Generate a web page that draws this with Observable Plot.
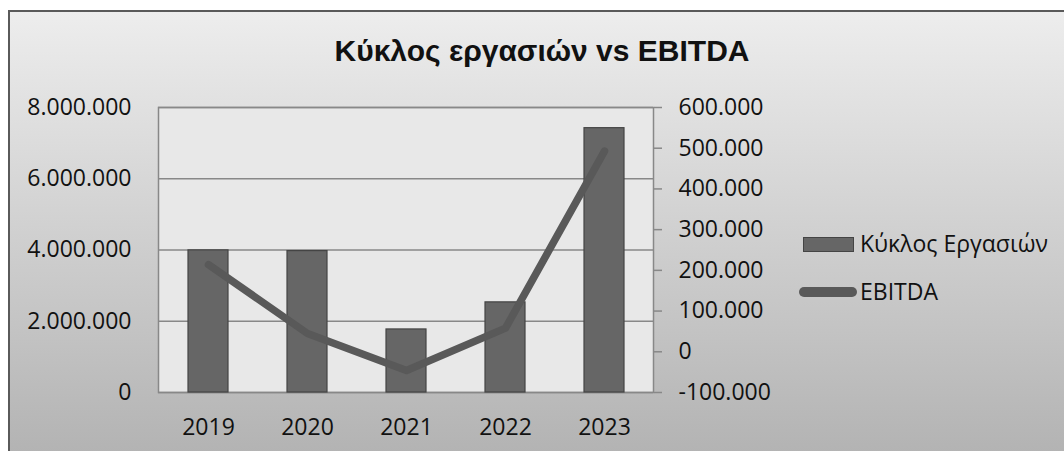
<!DOCTYPE html>
<html>
<head>
<meta charset="utf-8">
<script src="https://cdn.jsdelivr.net/npm/d3@7"></script>
<script src="https://cdn.jsdelivr.net/npm/@observablehq/plot@0.6"></script>
<style>
  html, body { margin: 0; padding: 0; background: #ffffff; }
  #wrap { position: relative; width: 1064px; height: 451px; overflow: hidden; }
  #frame { position: absolute; left: 8px; top: 10px; width: 1100px; height: 500px;
    border-left: 2px solid #5a5a5a; border-top: 2px solid #5a5a5a;
    background: linear-gradient(to bottom, #ededed 0px, #b3b3b3 441px); }
  #chart { position: absolute; left: 0; top: 0; }
  #title { position: absolute; left: 0; width: 1084px; top: 36px; text-align: center;
    font: bold 30px "Liberation Sans", Arial, sans-serif; line-height: 30px; color: #111; }
  .leg { position: absolute; font: 23px "Open Sans", sans-serif; line-height: 23px; color: #111; white-space: nowrap; }
  .sw-bar { position: absolute; background: #666; border: 1px solid #444; box-sizing: border-box; }
  .sw-line { position: absolute; background: #595959; border-radius: 6px; }
</style>
</head>
<body>
<div id="wrap">
  <div id="frame"></div>
  <div id="chart"></div>
  <div id="title"></div>
  <div id="legend"></div>
</div>
<script>
const title = "Κύκλος εργασιών vs EBITDA";
const years = ["2019", "2020", "2021", "2022", "2023"];
const revenue = [3990000, 3970000, 1770000, 2530000, 7420000];
const ebitda = [214000, 45000, -46000, 58000, 493000];
const seriesNames = ["Κύκλος Εργασιών", "EBITDA"];
const leftTicks = [0, 2000000, 4000000, 6000000, 8000000];
const rightTicks = [-100000, 0, 100000, 200000, 300000, 400000, 500000, 600000];

const L = [0, 8000000], R = [-100000, 600000];
const toLeft = v => (v - R[0]) / (R[1] - R[0]) * (L[1] - L[0]) + L[0];
const fromLeft = v => (v - L[0]) / (L[1] - L[0]) * (R[1] - R[0]) + R[0];

const locale = d3.formatLocale({decimal: ",", thousands: ".", grouping: [3], currency: ["", "€"], minus: "-"});
const fmt = locale.format(",d");

const data = years.map((y, i) => ({year: y, revenue: revenue[i], ebitda: ebitda[i]}));

const chart = Plot.plot({
  width: 1064, height: 451,
  marginLeft: 158, marginRight: 411, marginTop: 107, marginBottom: 59,
  style: {background: "transparent", fontFamily: "'Open Sans', sans-serif", fontSize: "23px", color: "#111", overflow: "visible"},
  x: {domain: years, paddingInner: 0.6, paddingOuter: 0.3, label: null},
  y: {domain: L, label: null},
  marks: [
    Plot.frame({fill: "#e8e8e8", stroke: "#888", strokeWidth: 1.5}),
    Plot.ruleY(leftTicks, {stroke: "#888", strokeWidth: 1.5}),
    Plot.barY(data, {x: "year", y: "revenue", fill: "#666", stroke: "#444", strokeWidth: 1.2}),
    Plot.line(data, {x: "year", y: d => toLeft(d.ebitda), stroke: "#595959", strokeWidth: 7.5, strokeLinecap: "round", strokeLinejoin: "round"}),
    Plot.axisY(leftTicks, {anchor: "left", tickSize: 0, tickPadding: 27, tickFormat: fmt, fill: "#111", label: null}),
    Plot.axisY(rightTicks.map(toLeft), {anchor: "right", tickSize: 8, tickPadding: 17, stroke: "#888", strokeWidth: 1.5, fill: "#111", tickFormat: d => fmt(Math.round(fromLeft(d))), label: null}),
    Plot.axisX({tickSize: 0, tickPadding: 26, fill: "#111", label: null})
  ]
});
document.getElementById("chart").appendChild(chart);
document.getElementById("title").textContent = title;

const legend = document.getElementById("legend");
legend.innerHTML = `
  <div class="sw-bar" style="left:803px;top:237px;width:51px;height:15px;"></div>
  <div class="leg" style="left:860px;top:232px;">${seriesNames[0]}</div>
  <div class="sw-line" style="left:799px;top:287px;width:58px;height:10px;"></div>
  <div class="leg" style="left:860px;top:280px;">${seriesNames[1]}</div>
`;
</script>
</body>
</html>
